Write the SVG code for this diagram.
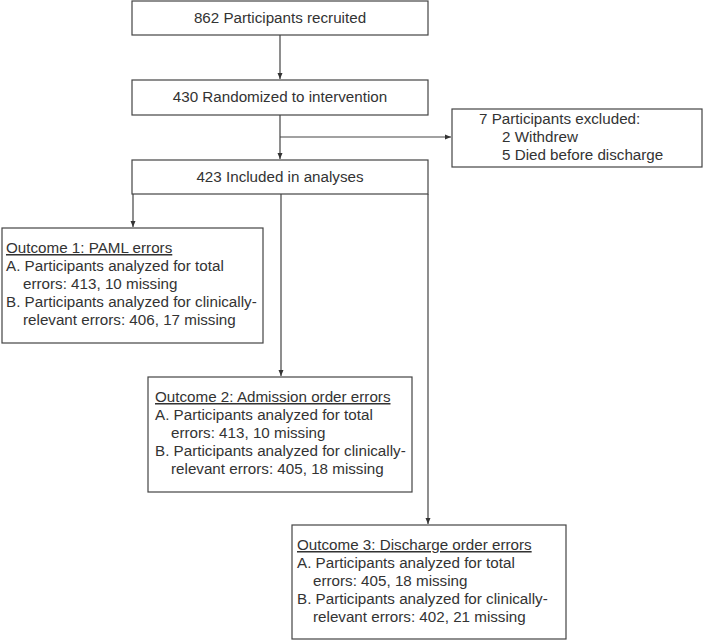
<svg xmlns="http://www.w3.org/2000/svg" width="703" height="640" viewBox="0 0 703 640">
<style>
.box{fill:#fff;stroke:#444;stroke-width:1.2}
.t{font-family:"Liberation Sans",Arial,sans-serif;font-size:15.2px;fill:#333}
.c{text-anchor:middle}
.u{text-decoration:underline}
.ln{fill:none;stroke:#444;stroke-width:1.2}
</style>
<defs>
<marker id="ah" markerWidth="8" markerHeight="8" refX="6" refY="3.5" orient="auto" markerUnits="userSpaceOnUse">
<path d="M0,1 L6,3.5 L0,6 Z" fill="#333"/>
</marker>
</defs>
<rect width="703" height="640" fill="#fff"/>
<g id="connectors">
<path class="ln" d="M280,35 V79" marker-end="url(#ah)"/>
<path class="ln" d="M280,115 V159" marker-end="url(#ah)"/>
<path class="ln" d="M280,137 H451" marker-end="url(#ah)"/>
<path class="ln" d="M133,194 V227" marker-end="url(#ah)"/>
<path class="ln" d="M281,194 V376" marker-end="url(#ah)"/>
<path class="ln" d="M428,194 V524" marker-end="url(#ah)"/>
</g>
<g id="recruited">
<rect class="box" x="132" y="1" width="296" height="34"/>
<text class="t c" x="280" y="23">862 Participants recruited</text>
</g>
<g id="randomized">
<rect class="box" x="132" y="80" width="296" height="35"/>
<text class="t c" x="280" y="102">430 Randomized to intervention</text>
</g>
<g id="excluded">
<rect class="box" x="452" y="109" width="250" height="58"/>
<text class="t" x="479" y="124">7 Participants excluded:</text>
<text class="t" x="502" y="142">2 Withdrew</text>
<text class="t" x="502" y="160">5 Died before discharge</text>
</g>
<g id="included">
<rect class="box" x="132" y="160" width="296" height="34"/>
<text class="t c" x="280" y="182">423 Included in analyses</text>
</g>
<g id="outcome1">
<rect class="box" x="2" y="228" width="261" height="115"/>
<text class="t u" x="6" y="253">Outcome 1: PAML errors</text>
<text class="t" x="6" y="271">A. Participants analyzed for total</text>
<text class="t" x="23" y="289">errors: 413, 10 missing</text>
<text class="t" x="6" y="307">B. Participants analyzed for clinically-</text>
<text class="t" x="23" y="325">relevant errors: 406, 17 missing</text>
</g>
<g id="outcome2">
<rect class="box" x="148" y="377" width="264" height="115"/>
<text class="t u" x="155" y="402">Outcome 2: Admission order errors</text>
<text class="t" x="155" y="420">A. Participants analyzed for total</text>
<text class="t" x="171" y="438">errors: 413, 10 missing</text>
<text class="t" x="155" y="456">B. Participants analyzed for clinically-</text>
<text class="t" x="171" y="474">relevant errors: 405, 18 missing</text>
</g>
<g id="outcome3">
<rect class="box" x="292" y="525" width="274" height="114"/>
<text class="t u" x="297" y="550">Outcome 3: Discharge order errors</text>
<text class="t" x="297" y="568">A. Participants analyzed for total</text>
<text class="t" x="313" y="586">errors: 405, 18 missing</text>
<text class="t" x="297" y="604">B. Participants analyzed for clinically-</text>
<text class="t" x="313" y="622">relevant errors: 402, 21 missing</text>
</g>
</svg>
